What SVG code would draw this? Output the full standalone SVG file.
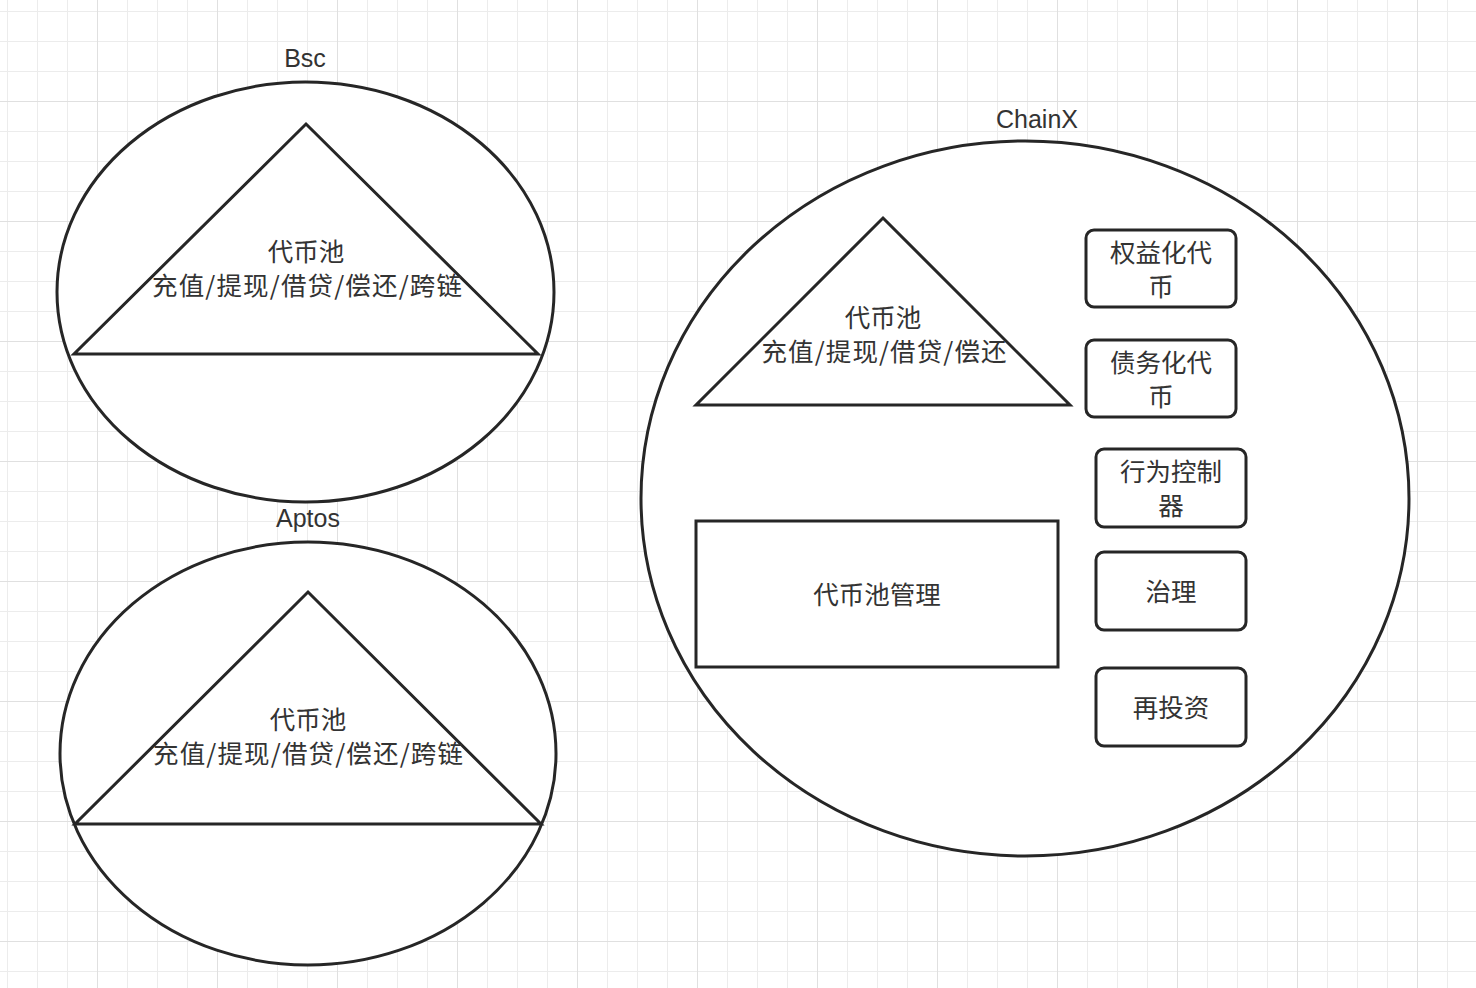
<svg xmlns="http://www.w3.org/2000/svg" width="1476" height="988" viewBox="0 0 1476 988">
  <defs>
    <pattern id="minor" patternUnits="userSpaceOnUse" x="7" y="11" width="30" height="30">
      <rect x="0" y="0" width="1" height="30" fill="#ececec"/>
      <rect x="0" y="0" width="30" height="1" fill="#ececec"/>
    </pattern>
    <pattern id="major" patternUnits="userSpaceOnUse" x="97" y="101" width="120" height="120">
      <rect x="0" y="0" width="1" height="120" fill="#e0e0e0"/>
      <rect x="0" y="0" width="120" height="1" fill="#e0e0e0"/>
    </pattern>
  </defs>
  <style>
    .shape { fill: #ffffff; stroke: #262626; stroke-width: 3; stroke-linejoin: miter; }
    .tri { fill: none; stroke: #262626; stroke-width: 3; stroke-linejoin: miter; }
    .lbl { font-family: "Liberation Sans", Arial, sans-serif; font-size: 25px; fill: #333333; text-anchor: middle; }
    .cjk { font-family: "Noto Sans CJK SC", "Noto Sans", sans-serif; font-size: 25.5px; fill: #333333; text-anchor: middle; dominant-baseline: central; }
  </style>
  <rect width="1476" height="988" fill="#ffffff"/>
  <rect width="1476" height="988" fill="url(#minor)"/>
  <rect width="1476" height="988" fill="url(#major)"/>

  <g id="bsc">
    <ellipse class="shape" cx="305.5" cy="292" rx="248.5" ry="210"/>
    <text class="lbl" x="305" y="67">Bsc</text>
    <g id="bsc-pool">
      <path class="tri" d="M306 124 L538 354 L74 354 Z"/>
      <text class="cjk" x="306" y="249">代币池</text>
      <text class="cjk" x="307" y="283" textLength="310" lengthAdjust="spacing">充值/提现/借贷/偿还/跨链</text>
    </g>
  </g>

  <g id="aptos">
    <ellipse class="shape" cx="308" cy="753.5" rx="248" ry="211.5"/>
    <text class="lbl" x="308" y="527">Aptos</text>
    <g id="aptos-pool">
      <path class="tri" d="M308 592 L541 824 L75 824 Z"/>
      <text class="cjk" x="308" y="717">代币池</text>
      <text class="cjk" x="308" y="751" textLength="310" lengthAdjust="spacing">充值/提现/借贷/偿还/跨链</text>
    </g>
  </g>

  <g id="chainx">
    <ellipse class="shape" cx="1025" cy="498.5" rx="384" ry="357.5"/>
    <text class="lbl" x="1037" y="128">ChainX</text>
    <g id="chainx-pool">
      <path class="tri" d="M883 218 L1070 405 L696 405 Z"/>
      <text class="cjk" x="883" y="315">代币池</text>
      <text class="cjk" x="884" y="349" textLength="245" lengthAdjust="spacing">充值/提现/借贷/偿还</text>
    </g>
    <g id="pool-mgmt">
      <rect class="shape" x="696" y="521" width="362" height="146"/>
      <text class="cjk" x="877" y="592">代币池管理</text>
    </g>
    <g id="equity-token">
      <rect class="shape" x="1086" y="230" width="150" height="77" rx="8"/>
      <text class="cjk" x="1161" y="250">权益化代</text>
      <text class="cjk" x="1161" y="284">币</text>
    </g>
    <g id="debt-token">
      <rect class="shape" x="1086" y="340" width="150" height="77" rx="8"/>
      <text class="cjk" x="1161" y="360">债务化代</text>
      <text class="cjk" x="1161" y="394">币</text>
    </g>
    <g id="behavior-controller">
      <rect class="shape" x="1096" y="449" width="150" height="78" rx="8"/>
      <text class="cjk" x="1171" y="469">行为控制</text>
      <text class="cjk" x="1171" y="503">器</text>
    </g>
    <g id="governance">
      <rect class="shape" x="1096" y="552" width="150" height="78" rx="8"/>
      <text class="cjk" x="1171" y="589">治理</text>
    </g>
    <g id="reinvest">
      <rect class="shape" x="1096" y="668" width="150" height="78" rx="8"/>
      <text class="cjk" x="1171" y="705">再投资</text>
    </g>
  </g>
  <g id="connectors"/>
</svg>
